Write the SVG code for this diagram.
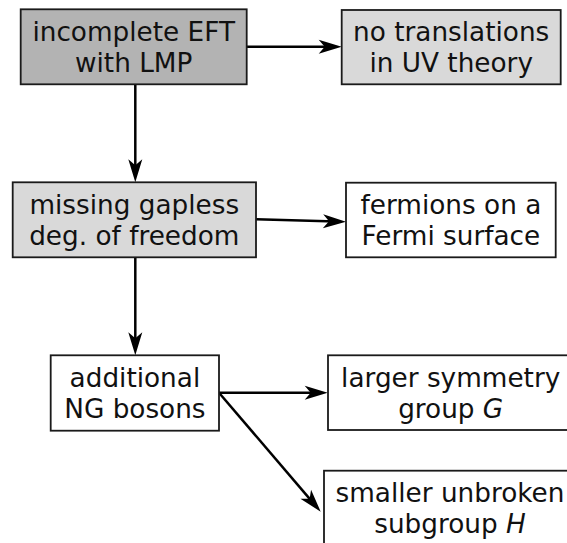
<svg xmlns="http://www.w3.org/2000/svg" width="567" height="543" viewBox="0 0 567 543">
<style>
.box{stroke:#1a1a1a;stroke-width:1.8}
.dark{fill:#b3b3b3}
.light{fill:#d9d9d9}
.white{fill:#ffffff}
text{font-family:"DejaVu Sans","Liberation Sans",sans-serif;font-size:26.3px;fill:#111;text-anchor:middle}
.conn{stroke:#000;stroke-width:2.5;fill:none}
</style>
<defs>
<marker id="ah" markerUnits="userSpaceOnUse" markerWidth="30" markerHeight="20" refX="13" refY="7" orient="auto" overflow="visible">
<path d="M0,0 L23,7 L0,14 L6,7 Z" fill="#000"/>
</marker>
</defs>
<rect width="567" height="543" fill="#fff"/>
<g id="connectors">
<line class="conn" x1="246.7" y1="46.7" x2="331.7" y2="46.7" marker-end="url(#ah)"/>
<line class="conn" x1="135.3" y1="84.3" x2="135.3" y2="172.3" marker-end="url(#ah)"/>
<line class="conn" x1="256" y1="219.3" x2="336" y2="221.5" marker-end="url(#ah)"/>
<line class="conn" x1="135.3" y1="257.3" x2="135.3" y2="345.3" marker-end="url(#ah)"/>
<line class="conn" x1="219" y1="392.7" x2="317.7" y2="392.7" marker-end="url(#ah)"/>
<line class="conn" x1="219" y1="392.7" x2="314.2" y2="504.1" marker-end="url(#ah)"/>
</g>
<g id="n1">
<rect class="box dark" x="20.7" y="9.3" width="226" height="75"/>
<text x="133.7" y="40.8">incomplete EFT</text>
<text x="133.7" y="72">with LMP</text>
</g>
<g id="n2">
<rect class="box light" x="341.7" y="10" width="219" height="74.3"/>
<text x="451.2" y="40.8">no translations</text>
<text x="451.2" y="72">in UV theory</text>
</g>
<g id="n3">
<rect class="box light" x="12.7" y="182.3" width="243.3" height="75"/>
<text x="134.3" y="213.8">missing gapless</text>
<text x="134.3" y="244.8">deg. of freedom</text>
</g>
<g id="n4">
<rect class="box white" x="346" y="182.7" width="209.7" height="74.6"/>
<text x="450.9" y="213.8">fermions on a</text>
<text x="450.9" y="244.8">Fermi surface</text>
</g>
<g id="n5">
<rect class="box white" x="50.7" y="355.3" width="168.3" height="75.4"/>
<text x="134.9" y="386.5">additional</text>
<text x="134.9" y="417.5">NG bosons</text>
</g>
<g id="n6">
<rect class="box white" x="328" y="355.3" width="245" height="74.7"/>
<text x="450.7" y="386.5">larger symmetry</text>
<text x="450.7" y="417.5">group <tspan font-style="italic">G</tspan></text>
</g>
<g id="n7">
<rect class="box white" x="324" y="470.7" width="252" height="75"/>
<text x="450" y="501.5">smaller unbroken</text>
<text x="450" y="532.5">subgroup <tspan font-style="italic">H</tspan></text>
</g>
</svg>
